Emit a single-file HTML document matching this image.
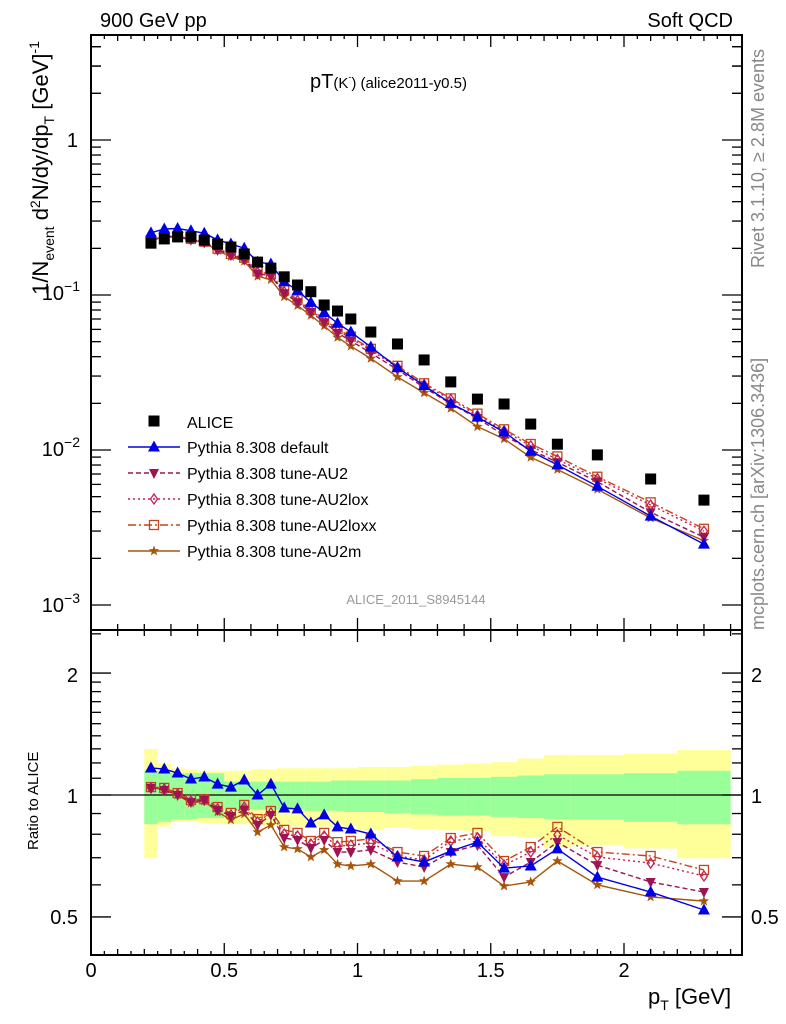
<!DOCTYPE html>
<html><head><meta charset="utf-8"><style>
html,body{margin:0;padding:0;background:#fff;}
svg{display:block;font-family:"Liberation Sans",sans-serif;}
</style></head><body>
<svg id="chart" width="786" height="1024" viewBox="0 0 786 1024" xmlns="http://www.w3.org/2000/svg"></svg>
<script>
// ---- data ----
const binEdges=[0.2,0.25,0.3,0.35,0.4,0.45,0.5,0.55,0.6,0.65,0.7,0.75,0.8,0.85,0.9,0.95,1.0,1.1,1.2,1.3,1.4,1.5,1.6,1.7,1.8,2.0,2.2,2.4];
const ptCenters=[0.225,0.275,0.325,0.375,0.425,0.475,0.525,0.575,0.625,0.675,0.725,0.775,0.825,0.875,0.925,0.975,1.05,1.15,1.25,1.35,1.45,1.55,1.65,1.75,1.9,2.1,2.3];
const aliceValues=[0.216,0.230,0.237,0.237,0.226,0.213,0.204,0.184,0.163,0.149,0.131,0.116,0.105,0.0862,0.0788,0.070,0.0577,0.0483,0.0381,0.0275,0.0213,0.0198,0.0147,0.0109,0.0093,0.0065,0.00475];
const yellowHi=[1.30,1.197,1.164,1.156,1.148,1.148,1.148,1.148,1.156,1.156,1.164,1.164,1.164,1.164,1.164,1.164,1.173,1.173,1.180,1.189,1.197,1.205,1.230,1.256,1.256,1.265,1.291];
const yellowLo=[0.698,0.836,0.859,0.859,0.853,0.853,0.847,0.847,0.841,0.841,0.836,0.836,0.836,0.836,0.836,0.836,0.818,0.830,0.824,0.818,0.813,0.791,0.785,0.743,0.753,0.738,0.698];
const greenHi=[1.148,1.148,1.132,1.132,1.132,1.132,1.079,1.079,1.079,1.079,1.079,1.079,1.079,1.079,1.086,1.086,1.086,1.086,1.094,1.102,1.102,1.109,1.117,1.125,1.125,1.132,1.148];
const greenLo=[0.847,0.859,0.871,0.871,0.877,0.877,0.920,0.920,0.920,0.920,0.920,0.920,0.914,0.914,0.914,0.908,0.908,0.902,0.895,0.889,0.889,0.883,0.877,0.871,0.871,0.859,0.847];
const ratioDefault=[1.166,1.159,1.133,1.095,1.108,1.064,1.046,1.089,1.0,1.064,0.929,0.924,0.853,0.893,0.834,0.824,0.801,0.703,0.683,0.727,0.765,0.660,0.668,0.736,0.627,0.576,0.520];
const ratioAU2=[1.041,1.029,1.0,0.961,0.972,0.918,0.887,0.918,0.843,0.893,0.783,0.774,0.740,0.774,0.723,0.723,0.732,0.683,0.664,0.723,0.752,0.627,0.683,0.765,0.671,0.610,0.576];
const ratioAU2lox=[1.041,1.035,1.006,0.966,0.972,0.924,0.893,0.934,0.858,0.903,0.801,0.792,0.757,0.792,0.748,0.752,0.761,0.707,0.691,0.770,0.783,0.671,0.723,0.797,0.703,0.679,0.631];
const ratioAU2loxx=[1.046,1.041,1.011,0.972,0.977,0.934,0.903,0.945,0.872,0.913,0.820,0.806,0.770,0.806,0.765,0.770,0.779,0.723,0.707,0.783,0.806,0.687,0.744,0.834,0.723,0.707,0.653];
const ratioAU2m=[1.046,1.029,1.0,0.955,0.966,0.908,0.868,0.898,0.810,0.843,0.744,0.736,0.703,0.732,0.675,0.668,0.675,0.613,0.613,0.675,0.664,0.596,0.610,0.687,0.600,0.560,0.547];
</script>
<script>
const NS="http://www.w3.org/2000/svg";
const svg=document.getElementById('chart');
const L=91,R=742,T=35,M=630,B=955;
const X=v=>L+266.5*v;
const Y=v=>140-155*Math.log10(v);
const YR=r=>795-405*Math.log10(r);
function el(tag,attrs,parent){const e=document.createElementNS(NS,tag);for(const k in attrs)e.setAttribute(k,attrs[k]);(parent||svg).appendChild(e);return e;}
function txt(x,y,s,size,anchor,fill,parent){const t=el('text',{x:x,y:y,'font-size':size,'text-anchor':anchor||'start',fill:fill||'#000'},parent);t.textContent=s;return t;}

const defs=el('defs',{});
const c1=el('clipPath',{id:'ctop'},defs);el('rect',{x:L,y:T,width:R-L,height:M-T},c1);
const c2=el('clipPath',{id:'cbot'},defs);el('rect',{x:L,y:M,width:R-L,height:B-M},c2);

const gBand=el('g',{'clip-path':'url(#cbot)'});


for(let i=0;i<ptCenters.length;i++){
  const x0=X(binEdges[i]),x1=X(binEdges[i+1]);
  const r=el('rect',{x:x0,y:YR(yellowHi[i]),width:x1-x0,height:YR(yellowLo[i])-YR(yellowHi[i]),fill:'#ffff99'},gBand);
  
  
}
for(let i=0;i<ptCenters.length;i++){
  const x0=X(binEdges[i]),x1=X(binEdges[i+1]);
  const r=el('rect',{x:x0,y:YR(greenHi[i]),width:x1-x0,height:YR(greenLo[i])-YR(greenHi[i]),fill:'#99ff99'},gBand);
  
  
}
el('line',{x1:L,x2:R,y1:YR(1),y2:YR(1),stroke:'#000','stroke-width':1.2});

function marker(g,type,x,y,color){
  const s=5.5;
  if(type==='sq') el('rect',{x:x-s,y:y-s,width:2*s,height:2*s,fill:'#000'},g);
  else if(type==='tri') el('polygon',{points:`${x},${y-6.5} ${x-6},${y+4.5} ${x+6},${y+4.5}`,fill:color},g);
  else if(type==='itri') el('polygon',{points:`${x},${y+6} ${x-5},${y-4} ${x+5},${y-4}`,fill:color},g);
  else if(type==='dia') el('polygon',{points:`${x},${y-5} ${x+3.5},${y} ${x},${y+5} ${x-3.5},${y}`,fill:'none',stroke:color,'stroke-width':1.3},g);
  else if(type==='osq') el('rect',{x:x-4.5,y:y-4.5,width:9,height:9,fill:'none',stroke:color,'stroke-width':1.3},g);
  else if(type==='star'){let p=[];for(let k=0;k<10;k++){const a=-Math.PI/2+k*Math.PI/5,rr=k%2?2.3:5.5;p.push((x+rr*Math.cos(a)).toFixed(1)+','+(y+rr*Math.sin(a)).toFixed(1));}el('polygon',{points:p.join(' '),fill:color},g);}
}
const series=[
 {name:'Pythia 8.308 tune-AU2m',ratio:ratioAU2m,color:'#a5560d',dash:'',mk:'star',id:'au2m'},
 {name:'Pythia 8.308 tune-AU2loxx',ratio:ratioAU2loxx,color:'#c4451c',dash:'8,3,2,3',mk:'osq',id:'au2loxx'},
 {name:'Pythia 8.308 tune-AU2lox',ratio:ratioAU2lox,color:'#c41e5a',dash:'2,3',mk:'dia',id:'au2lox'},
 {name:'Pythia 8.308 tune-AU2',ratio:ratioAU2,color:'#9c1552',dash:'5,3',mk:'itri',id:'au2'},
 {name:'Pythia 8.308 default',ratio:ratioDefault,color:'#0000e6',dash:'',mk:'tri',id:'default'}
];
for(const s of series){
  const vals=s.ratio.map((r,i)=>r*aliceValues[i]);
  const gt=el('g',{'clip-path':'url(#ctop)'});
  
  
  el('polyline',{points:ptCenters.map((p,i)=>X(p)+','+Y(vals[i])).join(' '),fill:'none',stroke:s.color,'stroke-width':1.4,'stroke-dasharray':s.dash},gt);
  ptCenters.forEach((p,i)=>marker(gt,s.mk,X(p),Y(vals[i]),s.color));
  const gb=el('g',{'clip-path':'url(#cbot)'});
  
  
  el('polyline',{points:ptCenters.map((p,i)=>X(p)+','+YR(s.ratio[i])).join(' '),fill:'none',stroke:s.color,'stroke-width':1.4,'stroke-dasharray':s.dash},gb);
  ptCenters.forEach((p,i)=>marker(gb,s.mk,X(p),YR(s.ratio[i]),s.color));
}
const ga=el('g',{'clip-path':'url(#ctop)'});


ptCenters.forEach((p,i)=>marker(ga,'sq',X(p),Y(aliceValues[i])));

el('rect',{x:L,y:T,width:R-L,height:M-T,fill:'none',stroke:'#000','stroke-width':2});
el('rect',{x:L,y:M,width:R-L,height:B-M,fill:'none',stroke:'#000','stroke-width':2});
const gax=el('g',{stroke:'#000','stroke-width':1.3});


for(let k=0;k<=24;k++){
  const v=k*0.1,x=X(v);if(x>R)break;
  const big=k%5===0;
  for(const [yb,dir] of [[T,1],[M,-1],[M,1],[B,-1]]) el('line',{x1:x,x2:x,y1:yb,y2:yb+dir*(big?12:6)},gax);
}
for(let k=0;k<=48;k++){const x=X(k*0.05);if(x>R||k%2===0)continue;for(const [yb,dir] of [[B,-1],[T,1]]) el('line',{x1:x,x2:x,y1:yb,y2:yb+dir*4},gax);}
for(let d=-3;d<=0;d++){for(let m=1;m<=9;m++){const v=m*Math.pow(10,d),y=Y(v);if(y<T||y>M)continue;const len=m===1?20:10;el('line',{x1:L,x2:L+len,y1:y,y2:y},gax);el('line',{x1:R,x2:R-len,y1:y,y2:y},gax);}}
for(let m=2;m<=4;m++){const y=Y(m);if(y>=T){el('line',{x1:L,x2:L+10,y1:y,y2:y},gax);el('line',{x1:R,x2:R-10,y1:y,y2:y},gax);}}
const rt=[0.5,0.6,0.7,0.8,0.9,1,1.1,1.2,1.3,1.4,1.5,1.6,1.7,1.8,1.9,2,2.5];
for(const v of rt){const y=YR(v);if(y<M||y>B)continue;const len=(v===1||v===2||v===0.5)?20:10;el('line',{x1:L,x2:L+len,y1:y,y2:y},gax);el('line',{x1:R,x2:R-len,y1:y,y2:y},gax);}

const xt=['0','0.5','1','1.5','2'];
xt.forEach((s,i)=>txt(X(i*0.5),977,s,20,'middle'));
txt(78,147,'1',20,'end');
const dec=[[-1,293],[-2,449],[-3,605]];
for(const [d,y] of dec){const t=txt(80,y+7,'10',20,'end');const sp=el('tspan',{dy:-9,'font-size':14},t);sp.textContent='\u2212'+String(-d);}
txt(78,682,'2',20,'end');txt(78,803,'1',20,'end');txt(78,924,'0.5',20,'end');
txt(751,682,'2',20,'start');txt(751,803,'1',20,'start');txt(751,924,'0.5',20,'start');
txt(100,27,'900 GeV pp',20);txt(733,27,'Soft QCD',20,'end');
const tt=txt(310,88,'pT',20);const s1=el('tspan',{'font-size':15},tt);s1.textContent='(K';const s2=el('tspan',{'font-size':9,dy:-8},tt);s2.textContent='-';const s3=el('tspan',{'font-size':15,dy:8},tt);s3.textContent=') (alice2011-y0.5)';
txt(416,604,'ALICE_2011_S8945144',13,'middle','#999');
const px=txt(648,1004,'p',22);const ps=el('tspan',{'font-size':14,dy:6},px);ps.textContent='T';const pg=el('tspan',{dy:-6,'font-size':22},px);pg.textContent=' [GeV]';
const yl=el('text',{transform:'translate(48,168) rotate(-90)','font-size':22,'text-anchor':'middle'});
yl.innerHTML='1/N<tspan font-size="14" dy="6">event</tspan><tspan dy="-6"> d</tspan><tspan font-size="14" dy="-8">2</tspan><tspan dy="8">N/dy/dp</tspan><tspan font-size="14" dy="6">T</tspan><tspan dy="-6"> [GeV]</tspan><tspan font-size="14" dy="-9">-1</tspan>';
const rl=el('text',{transform:'translate(38,850) rotate(-90)','font-size':15});rl.textContent='Ratio to ALICE';
const rv=el('text',{transform:'translate(764,268) rotate(-90)','font-size':18,fill:'#888'});rv.textContent='Rivet 3.1.10, \u2265 2.8M events';
const mc=el('text',{transform:'translate(764,630) rotate(-90)','font-size':18,fill:'#888'});mc.textContent='mcplots.cern.ch [arXiv:1306.3436]';

const lg=el('g',{});


marker(lg,'sq',154,421);txt(187,428,'ALICE',16,'start','#000',lg);
const order=[4,3,2,1,0];
order.forEach((si,k)=>{const s=series[si];const y=447+26*k;
  el('line',{x1:128,x2:180,y1:y,y2:y,stroke:s.color,'stroke-width':1.4,'stroke-dasharray':s.dash},lg);
  marker(lg,s.mk,154,y,s.color);txt(187,y+6,s.name,16,'start','#000',lg);});
</script>
</body></html>
